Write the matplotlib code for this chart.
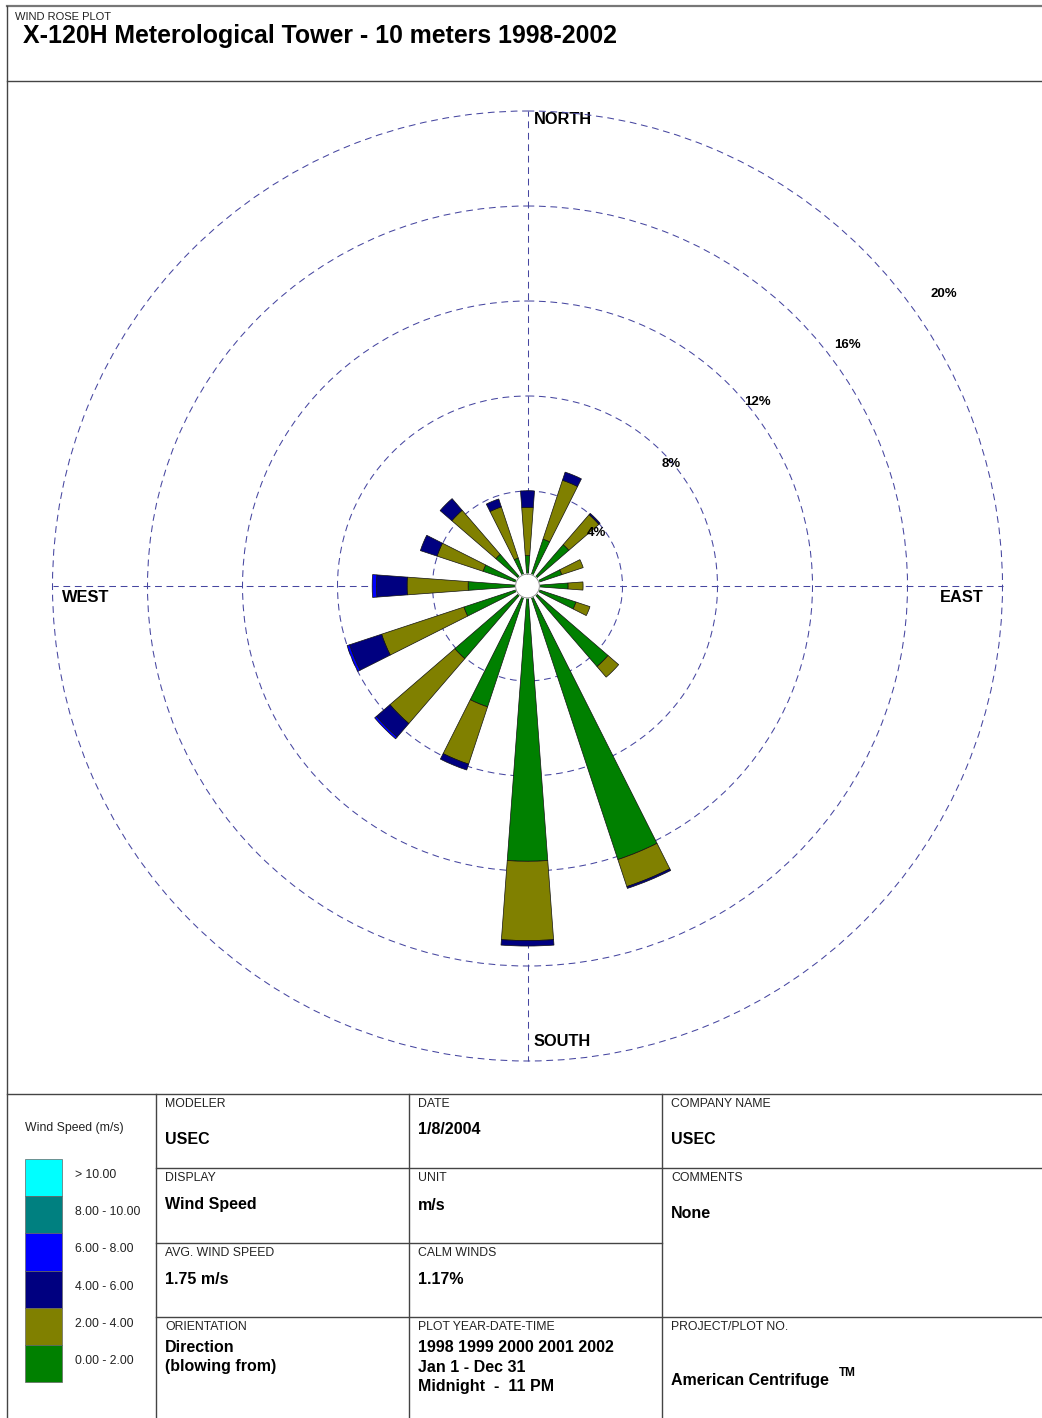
import matplotlib
matplotlib.use("Agg")
import matplotlib.pyplot as plt
import numpy as np
from matplotlib.patches import Rectangle

plt.rcParams["font.family"] = ["Liberation Sans", "DejaVu Sans"]

W, H = 1042, 1418

# frequency (%) of wind blowing from each direction, per speed class
directions = ["N", "NNE", "NE", "ENE", "E", "ESE", "SE", "SSE",
              "S", "SSW", "SW", "WSW", "W", "WNW", "NW", "NNW"]
freq_0_2 = [1.28, 2.08, 2.30, 1.52, 1.71, 2.15, 4.48, 12.13,
            11.59, 5.36, 4.04, 2.82, 2.50, 1.97, 1.76, 1.24]
freq_2_4 = [2.03, 2.61, 1.67, 0.95, 0.63, 0.62, 0.59, 1.20,
            3.34, 2.54, 3.61, 3.65, 2.57, 2.04, 2.45, 2.27]
freq_4_6 = [0.70, 0.36, 0.07, 0.0, 0.0, 0.0, 0.0, 0.08,
            0.23, 0.26, 0.75, 1.42, 1.29, 0.74, 0.65, 0.35]
freq_6_8 = [0.0, 0.0, 0.0, 0.0, 0.0, 0.0, 0.0, 0.0,
            0.0, 0.0, 0.10, 0.11, 0.18, 0.0, 0.0, 0.0]
freq_8_10 = [0.0] * 16
freq_over_10 = [0.0] * 16

speed_labels = ["0.00 - 2.00", "2.00 - 4.00", "4.00 - 6.00",
                "6.00 - 8.00", "8.00 - 10.00", "> 10.00"]
speed_colors = ["#008000", "#808000", "#000080", "#0000FF", "#008080", "#00FFFF"]
ring_values = [4, 8, 12, 16, 20]

GRID = "#4646a0"
DASH = (0, (6.5, 4.5))
LINE = "#444444"

fig = plt.figure(figsize=(W / 100, H / 100), dpi=100)

# page frame in pixel coordinates
bg = fig.add_axes([0, 0, 1, 1])
bg.set_xlim(0, W)
bg.set_ylim(H, 0)
bg.axis("off")

bg.plot([6.5, W], [5.5, 5.5], color="#777777", lw=1.6)
bg.plot([6.5, 6.5], [5.5, H], color=LINE, lw=1.0)
bg.plot([6.5, W], [80.5, 80.5], color=LINE, lw=1.0)
bg.plot([6.5, W], [1093.5, 1093.5], color=LINE, lw=1.0)
for x in (155.5, 408.5, 661.5):
    bg.plot([x, x], [1093.5, H], color=LINE, lw=1.0)
bg.plot([155.5, W], [1167.5, 1167.5], color=LINE, lw=1.0)
bg.plot([155.5, 661.5], [1242.5, 1242.5], color=LINE, lw=1.0)
bg.plot([155.5, W], [1316.5, 1316.5], color=LINE, lw=1.0)

bg.text(15, 17, "WIND ROSE PLOT", fontsize=8, color="#222222", va="center")
bg.text(23, 36.5, "X-120H Meterological Tower - 10 meters 1998-2002",
        fontsize=17.9, fontweight="bold", va="center")

# wind rose
cx, cy, R = 527.5, 586.0, 475.0
ax = fig.add_axes([(cx - R) / W, (H - cy - R) / H, 2 * R / W, 2 * R / H],
                  projection="polar")
ax.set_theta_zero_location("N")
ax.set_theta_direction(-1)
ax.set_ylim(0, 20)
ax.set_facecolor("none")
ax.spines["polar"].set_visible(False)
ax.set_rgrids(ring_values, labels=[""] * len(ring_values))
ax.set_thetagrids([0, 90, 180, 270], labels=[""] * 4)
ax.grid(True, color=GRID, linestyle=DASH, linewidth=0.75)
for gl in ax.xaxis.get_gridlines() + ax.yaxis.get_gridlines():
    gl.set_clip_on(False)

theta = np.deg2rad(np.arange(len(directions)) * 22.5)
bar_width = np.deg2rad(22.5) * 0.375
series = [freq_0_2, freq_2_4, freq_4_6, freq_6_8, freq_8_10, freq_over_10]
bottom = np.zeros(len(directions))
for values, color in zip(series, speed_colors):
    v = np.asarray(values)
    m = v > 0
    if m.any():
        ax.bar(theta[m], v[m], width=bar_width, bottom=bottom[m], color=color,
               edgecolor="#111111", linewidth=0.5, zorder=3)
    bottom += v

# white calm circle in the middle
ring = np.linspace(0, 2 * np.pi, 200)
ax.fill(ring, np.full_like(ring, 0.5), color="white", zorder=5)
ax.plot(ring, np.full_like(ring, 0.5), color="#888888", lw=0.6, zorder=6)

# ring labels
label_pos = [(52.5, 3.66), (49.7, 7.94), (51.3, 12.4), (53.0, 16.87), (54.9, 21.4)]
for val, (ang, r) in zip(ring_values, label_pos):
    ax.text(np.deg2rad(ang), r, f"{val}%", fontsize=9.5, fontweight="bold",
            ha="center", va="center", zorder=7)

card = dict(fontsize=11.8, fontweight="bold", va="center")
bg.text(534, 119, "NORTH", **card)
bg.text(534, 1041, "SOUTH", **card)
bg.text(62, 597, "WEST", **card)
bg.text(984, 597, "EAST", ha="right", **card)

# legend
bg.text(25, 1128, "Wind Speed (m/s)", fontsize=8.8, color="#222222", va="center")
for i, (lab, col) in enumerate(zip(speed_labels[::-1], speed_colors[::-1])):
    top = 1159 + i * 37.2
    bg.add_patch(Rectangle((25, top), 37, 37.2, facecolor=col,
                           edgecolor="#666666", lw=0.5))
    bg.text(75, top + 16, lab, fontsize=8.8, color="#222222", va="center")

# info table
small = dict(fontsize=8.8, color="#222222", va="center")
big = dict(fontsize=11.5, fontweight="bold", va="center")

bg.text(165, 1104, "MODELER", **small)
bg.text(165, 1140, "USEC", **big)
bg.text(165, 1178, "DISPLAY", **small)
bg.text(165, 1205, "Wind Speed", **big)
bg.text(165, 1253, "AVG. WIND SPEED", **small)
bg.text(165, 1279, "1.75 m/s", **big)
bg.text(165, 1327, "ORIENTATION", **small)
bg.text(165, 1348, "Direction", **big)
bg.text(165, 1367, "(blowing from)", **big)

bg.text(418, 1104, "DATE", **small)
bg.text(418, 1130, "1/8/2004", **big)
bg.text(418, 1178, "UNIT", **small)
bg.text(418, 1205, "m/s", **big)
bg.text(418, 1253, "CALM WINDS", **small)
bg.text(418, 1279, "1.17%", **big)
bg.text(418, 1327, "PLOT YEAR-DATE-TIME", **small)
bg.text(418, 1348, "1998 1999 2000 2001 2002", **big)
bg.text(418, 1367, "Jan 1 - Dec 31", **big)
bg.text(418, 1386, "Midnight  -  11 PM", **big)

bg.text(671, 1104, "COMPANY NAME", **small)
bg.text(671, 1140, "USEC", **big)
bg.text(671, 1178, "COMMENTS", **small)
bg.text(671, 1214, "None", **big)
bg.text(671, 1327, "PROJECT/PLOT NO.", **small)
bg.text(671, 1380, "American Centrifuge", **big)
bg.text(839, 1373, "TM", fontsize=8.5, fontweight="bold", va="center")

fig.savefig("out.png", dpi=100, facecolor="white")
